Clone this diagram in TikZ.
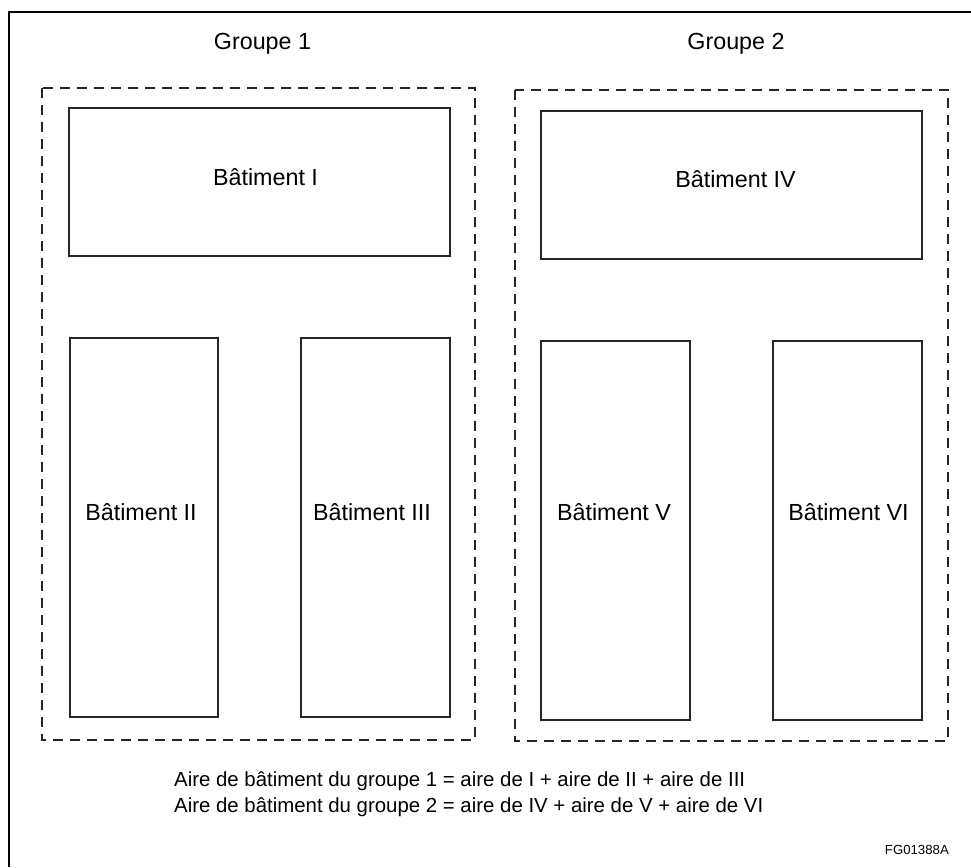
\documentclass[tikz,border=0pt]{standalone}
\usepackage{fontspec}
\setmainfont{Liberation Sans}
\begin{document}
\begin{tikzpicture}[x=1pt,y=-1pt,
  bat/.style={draw=black!85,line width=2.7pt},
  grp/.style={draw=black!85,line width=2.8pt,dash pattern=on 10pt off 7pt},
  lbl/.style={font=\fontsize{23.3}{28}\selectfont,inner sep=0pt,anchor=base},
  note/.style={font=\fontsize{20.4}{24}\selectfont,inner sep=0pt,anchor=base west},
  frame/.style={draw=black,line width=1.5pt}]
\useasboundingbox (0,0) rectangle (971,867);
\draw[frame] (9,867) -- (9,12) -- (971,12);
% group boxes
\draw[grp] (42,88) rectangle (475,740);
\draw[grp] (515,90) rectangle (948,741);
\node[lbl] (g1) at (262.5,50) {Groupe 1};
\node[lbl] (g2) at (736,50) {Groupe 2};
% buildings
\draw[bat] (69,108) rectangle (450,256);
\draw[bat] (70,338) rectangle (218,717);
\draw[bat] (301,338) rectangle (450,717);
\draw[bat] (541,111) rectangle (922,259);
\draw[bat] (541,341) rectangle (690,720);
\draw[bat] (773,341) rectangle (922,720);
\node[lbl] (b1) at (265.5,185) {Bâtiment I};
\node[lbl] (b2) at (141,520) {Bâtiment II};
\node[lbl] (b3) at (372,520) {Bâtiment III};
\node[lbl] (b4) at (735.5,187) {Bâtiment IV};
\node[lbl] (b5) at (614,520) {Bâtiment V};
\node[lbl] (b6) at (848.5,520) {Bâtiment VI};
\node[note] (t1) at (174,786) {Aire de bâtiment du groupe 1 = aire de I + aire de II + aire de III};
\node[note] (t2) at (174,812) {Aire de bâtiment du groupe 2 = aire de IV + aire de V + aire de VI};
\node[font=\fontsize{13.2}{15}\selectfont,inner sep=0pt,anchor=base east] (fg) at (949,854) {FG01388A};
\end{tikzpicture}
\end{document}
